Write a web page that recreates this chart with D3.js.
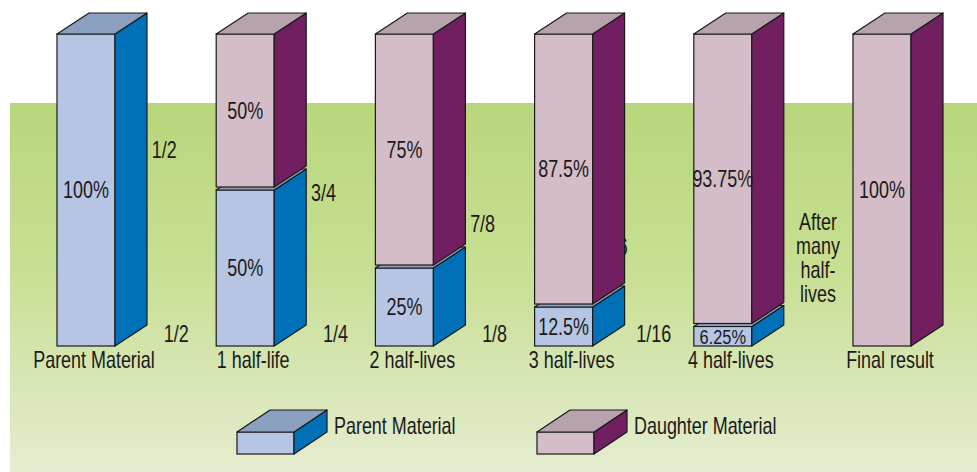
<!DOCTYPE html>
<html>
<head>
<meta charset="utf-8">
<script src="https://cdn.jsdelivr.net/npm/d3@7"></script>
<style>
  body { margin: 0; background: #fff; }
  text { font-family: "Liberation Sans", Arial, sans-serif; fill: #1a1a1a; }
</style>
</head>
<body>
<div id="chart"></div>
<script>
const categories = ["Parent Material", "1 half-life", "2 half-lives", "3 half-lives", "4 half-lives", "Final result"];
const parentPct = [100, 50, 25, 12.5, 6.25, 0];
const daughterPct = [0, 50, 75, 87.5, 93.75, 100];
const parentLabels = ["100%", "50%", "25%", "12.5%", "6.25%", ""];
const daughterLabels = ["", "50%", "75%", "87.5%", "93.75%", "100%"];
const upperFractions = ["1/2", "3/4", "7/8", "15/16"];
const lowerFractions = ["1/2", "1/4", "1/8", "1/16"];
const afterText = ["After", "many", "half-", "lives"];
const legendItems = ["Parent Material", "Daughter Material"];

const width = 977, height = 472;
const barW = 58, depthX = 32, depthY = 21, gap = 3;
const upperY = [158, 201, 232, 255];
const fontSize = 23, squeeze = 0.78;

const colors = {
  parent: { front: "#b6c5e3", side: "#0070b8", top: "#8b9fbf" },
  daughter: { front: "#d4bcc8", side: "#721f62", top: "#b7a2ae" }
};

const svg = d3.select("#chart")
  .append("svg")
  .attr("width", width)
  .attr("height", height);

const grad = svg.append("defs").append("linearGradient")
  .attr("id", "bg").attr("x1", 0).attr("y1", 0).attr("x2", 0).attr("y2", 1);
grad.append("stop").attr("offset", "0%").attr("stop-color", "#b8d67b");
grad.append("stop").attr("offset", "45%").attr("stop-color", "#c8df93");
grad.append("stop").attr("offset", "100%").attr("stop-color", "#e5ecd0");

svg.append("rect")
  .attr("x", 10).attr("y", 103)
  .attr("width", width - 10).attr("height", height - 103)
  .attr("fill", "url(#bg)");

const x = d3.scalePoint()
  .domain(categories)
  .range([57, 853]);

const y = d3.scaleLinear()
  .domain([0, 100])
  .range([346, 34]);

// condensed look: regular font squeezed horizontally
function label(parent, tx, ty, str, anchor = "middle", dy = null, size = fontSize) {
  const t = parent.append("text")
    .attr("transform", `translate(${tx},${ty}) scale(${squeeze},1)`)
    .attr("text-anchor", anchor)
    .attr("font-size", size)
    .text(str);
  if (dy) t.attr("dy", dy);
  return t;
}

// 15/16 sits mostly behind the 3 half-lives bar
label(svg, x(categories[3]) + barW + depthX + 3, upperY[3], upperFractions[3], "end");

function drawBox(g, x0, yTop, yBot, w, dx, dy, c) {
  g.append("rect")
    .attr("x", x0).attr("y", yTop)
    .attr("width", w).attr("height", yBot - yTop)
    .attr("fill", c.front).attr("stroke", "#1a1a1a").attr("stroke-width", 1.2);
  g.append("polygon")
    .attr("points", [[x0 + w, yTop], [x0 + w + dx, yTop - dy], [x0 + w + dx, yBot - dy], [x0 + w, yBot]].join(" "))
    .attr("fill", c.side).attr("stroke", "#1a1a1a").attr("stroke-width", 1.2).attr("stroke-linejoin", "round");
  g.append("polygon")
    .attr("points", [[x0, yTop], [x0 + dx, yTop - dy], [x0 + w + dx, yTop - dy], [x0 + w, yTop]].join(" "))
    .attr("fill", c.top).attr("stroke", "#1a1a1a").attr("stroke-width", 1.2).attr("stroke-linejoin", "round");
}

const bars = svg.append("g");

categories.forEach((cat, i) => {
  const g = bars.append("g");
  const x0 = x(cat);
  const split = y(parentPct[i]);
  const bottom = parentPct[i] > 0 ? split - gap : y(0);

  if (parentPct[i] > 0) {
    drawBox(g, x0, split, y(0), barW, depthX, depthY, colors.parent);
  }
  if (daughterPct[i] > 0) {
    drawBox(g, x0, y(100), bottom, barW, depthX, depthY, colors.daughter);
  }

  if (parentLabels[i]) {
    const segH = y(0) - split;
    label(g, x0 + barW / 2, (split + y(0)) / 2, parentLabels[i], "middle", "0.36em", segH < 25 ? 21 : fontSize);
  }
  if (daughterLabels[i]) {
    label(g, x0 + barW / 2, (y(100) + bottom) / 2, daughterLabels[i], "middle", "0.36em");
  }

  label(svg, x0 + barW / 2 + 8, 368, cat);
});

// fractions between bars
upperFractions.slice(0, 3).forEach((f, i) => {
  label(svg, x(categories[i + 1]) - 52, upperY[i], f);
});

lowerFractions.forEach((f, i) => {
  label(svg, x(categories[i + 1]) - 40, 342, f);
});

afterText.forEach((d, i) => {
  label(svg, x(categories[5]) - 35, 230 + i * 24, d);
});

// legend
const legendX = d3.scalePoint().domain(legendItems).range([237, 537]);
legendItems.forEach((item, i) => {
  const g = svg.append("g");
  const lx = legendX(item);
  drawBox(g, lx, 432, 454, 57, 33, 22, i === 0 ? colors.parent : colors.daughter);
  label(g, lx + 97, 434, item, "start");
});
</script>
</body>
</html>
